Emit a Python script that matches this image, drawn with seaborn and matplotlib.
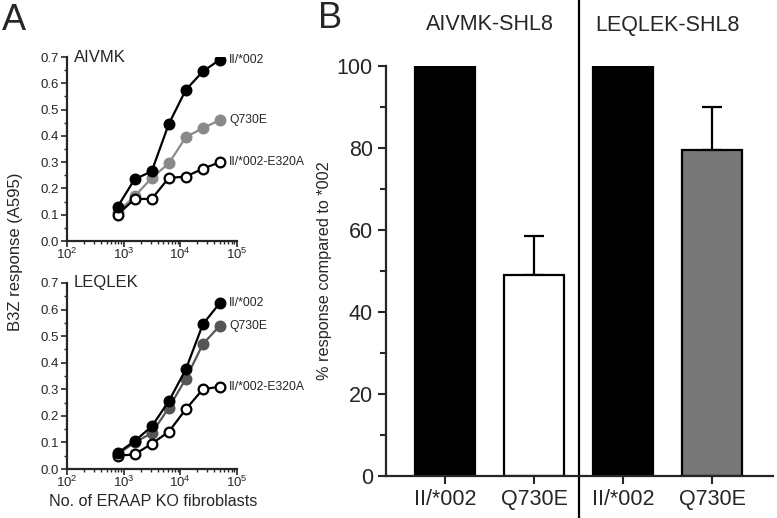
import matplotlib
matplotlib.use("Agg")
import matplotlib.pyplot as plt
import seaborn as sns
import pandas as pd
import numpy as np
from matplotlib.ticker import MultipleLocator, LogLocator, NullFormatter, FormatStrFormatter

# dados do painel A (numero de fibroblastos, dobrando)
cells = [781, 1562, 3125, 6250, 12500, 25000, 50000]

aivmk_wt = [0.13, 0.235, 0.265, 0.445, 0.575, 0.645, 0.69]
aivmk_q730e = [0.11, 0.17, 0.24, 0.295, 0.395, 0.43, 0.46]
aivmk_e320a = [0.10, 0.16, 0.16, 0.24, 0.245, 0.275, 0.30]

leqlek_wt = [0.06, 0.105, 0.16, 0.255, 0.375, 0.545, 0.625]
leqlek_q730e = [0.055, 0.10, 0.135, 0.23, 0.34, 0.47, 0.54]
leqlek_e320a = [0.05, 0.055, 0.095, 0.14, 0.225, 0.30, 0.31]

series_names = ["II/*002", "Q730E", "II/*002-E320A"]

# dados do painel B
bar_keys = ["AIVMK II/*002", "AIVMK Q730E", "LEQLEK II/*002", "LEQLEK Q730E"]
bar_labels = ["II/*002", "Q730E", "II/*002", "Q730E"]
bar_values = [100, 49, 100, 79.5]
bar_errors = [0, 9.5, 0, 10.5]
bar_colors = ["black", "white", "black", "#777777"]
group_titles = ["AIVMK-SHL8", "LEQLEK-SHL8"]

sns.set_theme(style="ticks")
plt.rcParams["font.family"] = ["Liberation Sans", "DejaVu Sans"]
plt.rcParams["mathtext.fontset"] = "custom"
plt.rcParams["mathtext.rm"] = "Liberation Sans"

fig = plt.figure(figsize=(7.77, 5.18), dpi=100)

ax_top = fig.add_axes([67 / 777, 1 - 241 / 518, 170 / 777, 184 / 518])
ax_bot = fig.add_axes([67 / 777, 1 - 469 / 518, 170 / 777, 186 / 518])
ax_b = fig.add_axes([386 / 777, 1 - 476 / 518, 387 / 777, 410 / 518])


def draw_panel(ax, values, q_color, title):
    styles = [
        dict(color="black", markerfacecolor="black", markeredgecolor="black"),
        dict(color=q_color, markerfacecolor=q_color, markeredgecolor=q_color),
        dict(color="black", markerfacecolor="white", markeredgecolor="black"),
    ]
    order = [1, 0, 2]
    for i in order:
        df = pd.DataFrame({"cells": cells, "resp": values[i]})
        sns.lineplot(data=df, x="cells", y="resp", ax=ax, marker="o",
                     markersize=7, linewidth=1.6, markeredgewidth=1.6,
                     zorder=3 + (i == 0), **styles[i])
    for i, name in enumerate(series_names):
        ax.text(cells[-1] * 1.45, values[i][-1], name, fontsize=8.7,
                va="center", ha="left", clip_on=False)
    ax.set_xscale("log")
    ax.set_xlim(1e2, 1e5)
    ax.set_ylim(0, 0.7)
    ax.yaxis.set_major_locator(MultipleLocator(0.1))
    ax.yaxis.set_minor_locator(MultipleLocator(0.05))
    ax.yaxis.set_major_formatter(FormatStrFormatter("%.1f"))
    ax.xaxis.set_major_locator(LogLocator(base=10, numticks=10))
    ax.xaxis.set_minor_locator(LogLocator(base=10, subs=np.arange(2, 10), numticks=10))
    ax.xaxis.set_minor_formatter(NullFormatter())
    ax.tick_params(axis="both", which="major", labelsize=9.5, length=4, width=1.2, pad=1.5)
    ax.tick_params(axis="x", which="major", pad=0.5)
    ax.tick_params(axis="both", which="minor", length=2.5, width=1)
    ax.set_xlabel("")
    ax.set_ylabel("")
    for s in ["left", "bottom"]:
        ax.spines[s].set_linewidth(1.6)
    sns.despine(ax=ax)
    ax.text(0.04, 1.0, title, transform=ax.transAxes, fontsize=12, va="center", ha="left")


draw_panel(ax_top, [aivmk_wt, aivmk_q730e, aivmk_e320a], "#8a8a8a", "AIVMK")
draw_panel(ax_bot, [leqlek_wt, leqlek_q730e, leqlek_e320a], "#555555", "LEQLEK")

fig.text(16 / 777, 1 - 252 / 518, "B3Z response (A595)", rotation=90,
         fontsize=12, ha="center", va="center")
fig.text(153 / 777, 1 - 501 / 518, "No. of ERAAP KO fibroblasts",
         fontsize=11.6, ha="center", va="center")

# painel B
df_b = pd.DataFrame({"key": bar_keys, "value": bar_values})
sns.barplot(data=df_b, x="key", y="value", hue="key", order=bar_keys,
            palette=dict(zip(bar_keys, bar_colors)), width=0.67,
            edgecolor="black", linewidth=1.6, legend=False, ax=ax_b, zorder=2)
xpos = np.arange(len(bar_keys))
ax_b.errorbar(xpos, bar_values, yerr=[np.zeros(len(bar_errors)), bar_errors],
              fmt="none", ecolor="black", elinewidth=1.6, capsize=7.5,
              capthick=1.6, zorder=1)
ax_b.set_xlim(-0.663, 3.685)
ax_b.set_ylim(0, 100)
ax_b.yaxis.set_major_locator(MultipleLocator(20))
ax_b.yaxis.set_minor_locator(MultipleLocator(10))
ax_b.set_xticks(xpos)
ax_b.set_xticklabels(bar_labels)
ax_b.tick_params(axis="both", which="major", labelsize=15.5, length=6, width=1.5, pad=3.5)
ax_b.tick_params(axis="y", which="minor", length=4, width=1.5)
ax_b.set_xlabel("")
ax_b.set_ylabel("% response compared to *002", fontsize=11.7)
ax_b.yaxis.set_label_coords((332 - 386) / 387, 0.5)
for s in ["left", "bottom"]:
    ax_b.spines[s].set_linewidth(1.6)
sns.despine(ax=ax_b)
ax_b.axvline(1.5, ymin=-0.103, ymax=1.162, color="black", linewidth=1.6, clip_on=False)
for i, t in enumerate(group_titles):
    ax_b.text(0.5 + 2 * i, 1.1, t, transform=ax_b.get_xaxis_transform(),
              fontsize=15.5, ha="center", va="center")

fig.text(14 / 777, 1 - 20 / 518, "A", fontsize=26, ha="center", va="center")
fig.text(330 / 777, 1 - 19 / 518, "B", fontsize=26, ha="center", va="center")

fig.savefig("out.png", dpi=100)
